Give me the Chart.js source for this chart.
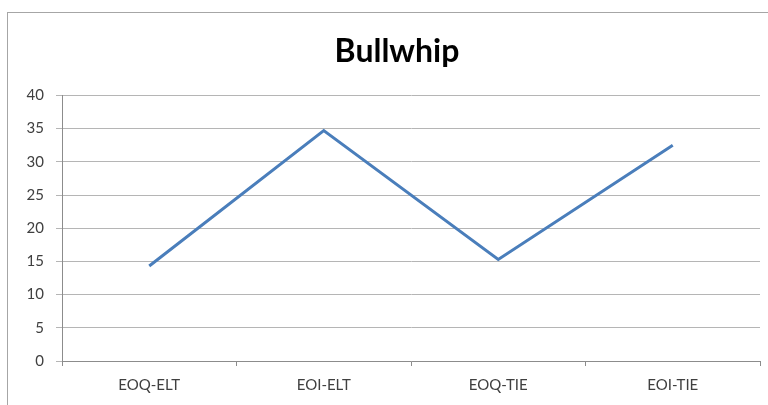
<!DOCTYPE html>
<html>
<head>
<meta charset="utf-8">
<script src="https://cdn.jsdelivr.net/npm/chart.js@4"></script>
<style>
  html, body { margin: 0; background: #fff; overflow: hidden; width: 768px; height: 405px; }
  #frame { position: absolute; left: 7px; top: 12px; width: 800px; height: 420px; border-left: 1px solid #a6a6a6; border-top: 1px solid #a6a6a6; }
  #wrap { position: absolute; left: 0; top: 0; width: 794px; height: 405px; }
</style>
</head>
<body>
<div id="frame"></div>
<div id="wrap"><canvas id="chart" width="794" height="405"></canvas></div>
<script>
// categories along the x axis
const categories = ['EOQ-ELT', 'EOI-ELT', 'EOQ-TIE', 'EOI-TIE'];
// bullwhip values
const bullwhip = [14.3, 34.7, 15.3, 32.5];

const tickFont = { family: 'Lato, "Open Sans", sans-serif', size: 15 };

// canvas is wider than the window so the title centres on the (cut off) chart frame,
// an empty axis on the right keeps the plot ending where the picture's does
new Chart(document.getElementById('chart'), {
    type: 'line',
    data: {
        labels: categories,
        datasets: [{
            label: 'Bullwhip',
            data: bullwhip,
            borderColor: '#4a7ebb',
            borderWidth: 3,
            pointRadius: 0,
            tension: 0,
            fill: false
        }]
    },
    options: {
        responsive: false,
        animation: false,
        layout: { padding: 0 },
        plugins: {
            legend: { display: false },
            tooltip: { enabled: false },
            title: {
                display: true,
                text: 'Bullwhip',
                color: '#000',
                font: { family: 'Lato, "Open Sans", sans-serif', size: 32, weight: 'bold' },
                padding: { top: 32, bottom: 25 }
            }
        },
        scales: {
            x: {
                offset: true,
                grid: { display: true, drawOnChartArea: false, tickLength: 5, color: '#8c8c8c', offset: true },
                border: { color: '#8c8c8c' },
                ticks: { color: '#404040', font: tickFont, padding: 10, maxRotation: 0 },
                afterFit: function(scale) { scale.height = 44; }
            },
            y: {
                min: 0,
                max: 40,
                ticks: { stepSize: 5, color: '#404040', font: tickFont, padding: 12 },
                grid: { color: '#b5b5b5', tickLength: 6 },
                border: { color: '#8c8c8c' },
                afterFit: function(scale) { scale.width = 62; }
            },
            spacer: {
                type: 'linear',
                position: 'right',
                min: 0,
                max: 40,
                ticks: { display: false },
                grid: { display: false, drawTicks: false },
                border: { display: false },
                afterFit: function(scale) { scale.width = 34; }
            }
        }
    }
});
</script>
</body>
</html>
